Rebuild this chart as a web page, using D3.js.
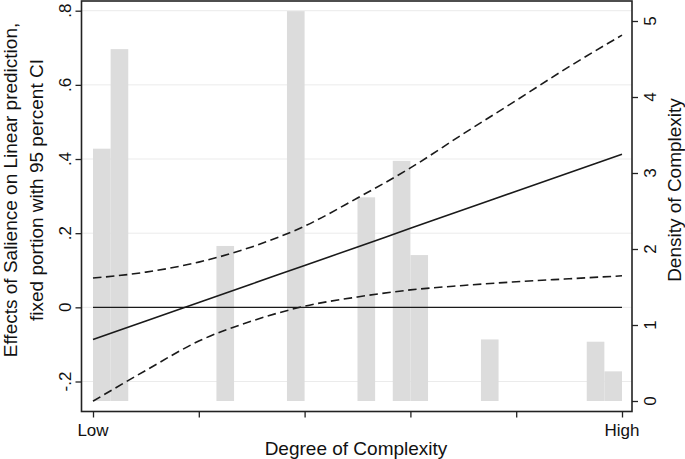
<!DOCTYPE html>
<html>
<head>
<meta charset="utf-8">
<script src="https://cdn.jsdelivr.net/npm/d3@7"></script>
<style>
  html, body { margin: 0; padding: 0; background: #fff; }
  svg { display: block; }
  text { font-family: "Liberation Sans", Arial, Helvetica, sans-serif; fill: #111; }
</style>
</head>
<body>
<svg id="chart" width="685" height="459"></svg>
<script>
// ---- data ----
const complexity = [0, 0.1, 0.2, 0.3, 0.4, 0.5, 0.6, 0.7, 0.8, 0.9, 1.0];
const prediction = [-0.087, -0.037, 0.013, 0.063, 0.113, 0.163, 0.213, 0.263, 0.313, 0.363, 0.413];
const ciUpper    = [0.079, 0.095, 0.122, 0.163, 0.219, 0.295, 0.376, 0.468, 0.558, 0.649, 0.734];
const ciLower    = [-0.253, -0.170, -0.091, -0.037, 0.003, 0.028, 0.047, 0.059, 0.069, 0.077, 0.085];

const binWidth = 1 / 30;
const binStart = [0, 1/30, 7/30, 11/30, 15/30, 17/30, 18/30, 22/30, 28/30, 29/30];
const density  = [3.32, 4.63, 2.04, 5.13, 2.68, 3.16, 1.92, 0.81, 0.78, 0.39];

const xTicks = [0, 0.2, 0.4, 0.6, 0.8, 1.0];
const xTickLabels = ["Low", "", "", "", "", "High"];
const leftTicks = [-0.2, 0, 0.2, 0.4, 0.6, 0.8];
const leftTickLabels = ["-.2", "0", ".2", ".4", ".6", ".8"];
const rightTicks = [0, 1, 2, 3, 4, 5];

const xTitle = "Degree of Complexity";
const leftTitle = ["Effects of Salience on Linear prediction,", "fixed portion with 95 percent CI"];
const rightTitle = "Density of Complexity";

// ---- layout ----
const frame = { left: 81.5, right: 632, top: 1, bottom: 411.5 };
const tickFont = "17px";
const titleFont = "19px";
const svg = d3.select("#chart");

const x = d3.scaleLinear().domain([0, 1]).range([93, 622]);
const yL = d3.scaleLinear().domain([-0.2, 0.8]).range([381.5, 10.7]);
const yR = d3.scaleLinear().domain([0, 5]).range([401, 21]);

// gridlines
svg.append("g").selectAll("line").data(leftTicks).join("line")
  .attr("x1", frame.left).attr("x2", frame.right)
  .attr("y1", d => yL(d)).attr("y2", d => yL(d))
  .attr("stroke", "#ebebeb").attr("stroke-width", 1);

// histogram bars
svg.append("g").selectAll("rect").data(binStart).join("rect")
  .attr("x", d => x(d))
  .attr("width", d => x(d + binWidth) - x(d))
  .attr("y", (d, i) => yR(density[i]))
  .attr("height", (d, i) => yR(0) - yR(density[i]))
  .attr("fill", "#dcdcdc");

// zero reference line
svg.append("line")
  .attr("x1", x(0)).attr("x2", x(1))
  .attr("y1", yL(0)).attr("y2", yL(0))
  .attr("stroke", "#1a1a1a").attr("stroke-width", 1.4);

const line = (vals) => d3.line()
  .x((d, i) => x(complexity[i]))
  .y(d => yL(d))
  .curve(d3.curveMonotoneX)(vals);

svg.append("path").attr("d", line(ciUpper))
  .attr("fill", "none").attr("stroke", "#1a1a1a").attr("stroke-width", 1.6)
  .attr("stroke-dasharray", "8.5,4.5");
svg.append("path").attr("d", line(ciLower))
  .attr("fill", "none").attr("stroke", "#1a1a1a").attr("stroke-width", 1.6)
  .attr("stroke-dasharray", "8.5,4.5");
svg.append("path").attr("d", line(prediction))
  .attr("fill", "none").attr("stroke", "#1a1a1a").attr("stroke-width", 1.6);

// frame
svg.append("rect")
  .attr("x", frame.left).attr("y", frame.top)
  .attr("width", frame.right - frame.left).attr("height", frame.bottom - frame.top)
  .attr("fill", "none").attr("stroke", "#222").attr("stroke-width", 1.6);

// left axis
const gL = svg.append("g").attr("transform", `translate(${frame.left},0)`)
  .call(d3.axisLeft(yL).tickValues(leftTicks).tickSize(6).tickFormat(""));
gL.select(".domain").remove();
gL.selectAll(".tick line").attr("stroke", "#222").attr("stroke-width", 1.3);
svg.append("g").selectAll("text").data(leftTicks).join("text")
  .attr("transform", d => `translate(71,${yL(d)}) rotate(-90)`)
  .attr("text-anchor", "middle")
  .style("font-size", tickFont)
  .text((d, i) => leftTickLabels[i]);

// right axis
const gR = svg.append("g").attr("transform", `translate(${frame.right},0)`)
  .call(d3.axisRight(yR).tickValues(rightTicks).tickSize(6).tickFormat(""));
gR.select(".domain").remove();
gR.selectAll(".tick line").attr("stroke", "#222").attr("stroke-width", 1.3);
svg.append("g").selectAll("text").data(rightTicks).join("text")
  .attr("transform", d => `translate(656,${yR(d)}) rotate(-90)`)
  .attr("text-anchor", "middle")
  .style("font-size", tickFont)
  .text(d => d3.format("d")(d));

// bottom axis
const gB = svg.append("g").attr("transform", `translate(0,${frame.bottom})`)
  .call(d3.axisBottom(x).tickValues(xTicks).tickSize(6).tickFormat(""));
gB.select(".domain").remove();
gB.selectAll(".tick line").attr("stroke", "#222").attr("stroke-width", 1.3);
svg.append("g").selectAll("text").data(xTicks).join("text")
  .attr("x", d => x(d)).attr("y", 435.5)
  .attr("text-anchor", "middle")
  .style("font-size", tickFont)
  .text((d, i) => xTickLabels[i]);

// titles
svg.append("text")
  .attr("x", 356).attr("y", 455)
  .attr("text-anchor", "middle").style("font-size", titleFont)
  .text(xTitle);

leftTitle.forEach((t, i) => {
  svg.append("text")
    .attr("transform", `translate(${17 + i * 26},${190}) rotate(-90)`)
    .attr("text-anchor", "middle").style("font-size", titleFont)
    .text(t);
});

svg.append("text")
  .attr("transform", `translate(681,190) rotate(-90)`)
  .attr("text-anchor", "middle").style("font-size", titleFont)
  .text(rightTitle);
</script>
</body>
</html>
